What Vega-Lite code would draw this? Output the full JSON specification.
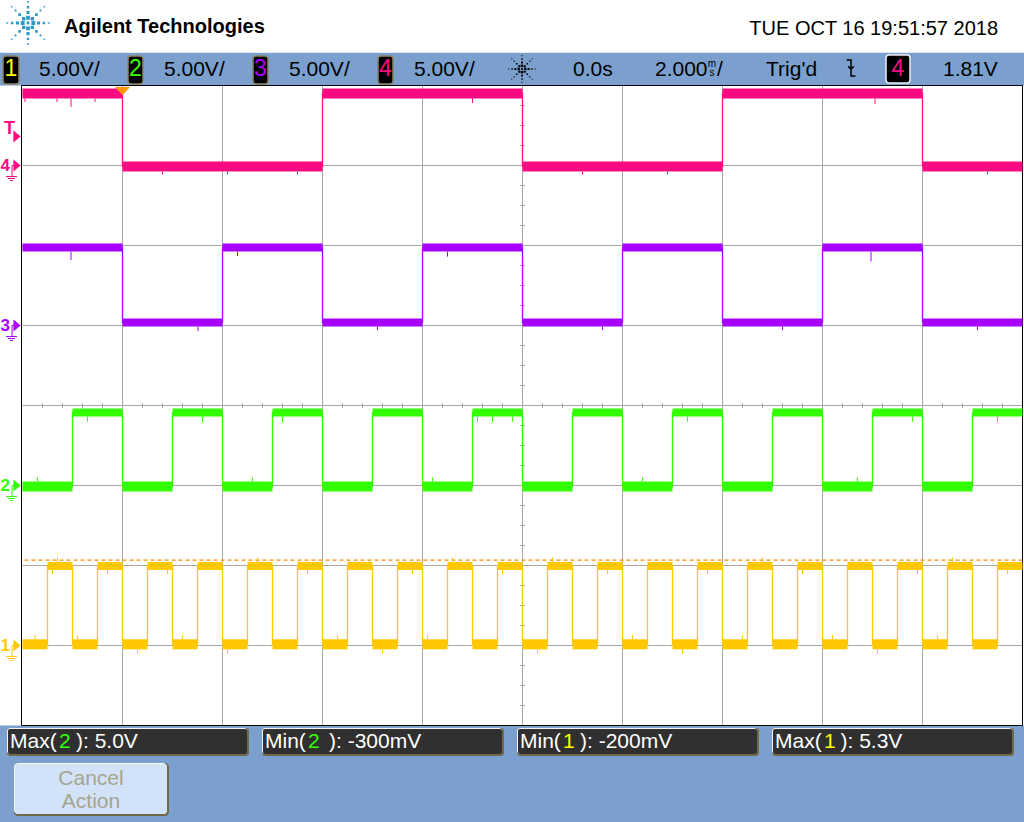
{
"$schema":"https://vega.github.io/schema/vega-lite/v6.json",
"width":1000,"height":640,
"autosize":{"type":"none"},
"padding":{"left":22.5,"top":85.5,"right":1.5,"bottom":96.5},
"background":"#FFFFFF",
"config":{"view":{"stroke":null},"font":"Liberation Sans"},
"datasets":{
"levels":[
{"k":"4H","v":4.5,"lo":4.19,"hi":4.81},{"k":"4L","v":-0.06,"lo":-0.375,"hi":0.25},
{"k":"3H","v":4.875,"lo":4.625,"hi":5.125},{"k":"3L","v":0.19,"lo":-0.06,"hi":0.44},
{"k":"2H","v":4.56,"lo":4.31,"hi":4.81},{"k":"2L","v":-0.06,"lo":-0.375,"hi":0.25},
{"k":"1H","v":4.97,"lo":4.72,"hi":5.22},{"k":"1L","v":0.08,"lo":-0.24,"hi":0.39}],
"segs":[
{"ch":"4","t0":0,"t1":2,"k":"4H"},{"ch":"4","t0":2,"t1":6,"k":"4L"},{"ch":"4","t0":6,"t1":10,"k":"4H"},{"ch":"4","t0":10,"t1":14,"k":"4L"},{"ch":"4","t0":14,"t1":18,"k":"4H"},{"ch":"4","t0":18,"t1":20,"k":"4L"},
{"ch":"3","t0":0,"t1":2,"k":"3H"},{"ch":"3","t0":2,"t1":4,"k":"3L"},{"ch":"3","t0":4,"t1":6,"k":"3H"},{"ch":"3","t0":6,"t1":8,"k":"3L"},{"ch":"3","t0":8,"t1":10,"k":"3H"},{"ch":"3","t0":10,"t1":12,"k":"3L"},{"ch":"3","t0":12,"t1":14,"k":"3H"},{"ch":"3","t0":14,"t1":16,"k":"3L"},{"ch":"3","t0":16,"t1":18,"k":"3H"},{"ch":"3","t0":18,"t1":20,"k":"3L"},
{"ch":"2","t0":0,"t1":1,"k":"2L"},{"ch":"2","t0":1,"t1":2,"k":"2H"},{"ch":"2","t0":2,"t1":3,"k":"2L"},{"ch":"2","t0":3,"t1":4,"k":"2H"},{"ch":"2","t0":4,"t1":5,"k":"2L"},{"ch":"2","t0":5,"t1":6,"k":"2H"},{"ch":"2","t0":6,"t1":7,"k":"2L"},{"ch":"2","t0":7,"t1":8,"k":"2H"},{"ch":"2","t0":8,"t1":9,"k":"2L"},{"ch":"2","t0":9,"t1":10,"k":"2H"},{"ch":"2","t0":10,"t1":11,"k":"2L"},{"ch":"2","t0":11,"t1":12,"k":"2H"},{"ch":"2","t0":12,"t1":13,"k":"2L"},{"ch":"2","t0":13,"t1":14,"k":"2H"},{"ch":"2","t0":14,"t1":15,"k":"2L"},{"ch":"2","t0":15,"t1":16,"k":"2H"},{"ch":"2","t0":16,"t1":17,"k":"2L"},{"ch":"2","t0":17,"t1":18,"k":"2H"},{"ch":"2","t0":18,"t1":19,"k":"2L"},{"ch":"2","t0":19,"t1":20,"k":"2H"},
{"ch":"1","t0":0,"t1":0.5,"k":"1L"},{"ch":"1","t0":0.5,"t1":1,"k":"1H"},{"ch":"1","t0":1,"t1":1.5,"k":"1L"},{"ch":"1","t0":1.5,"t1":2,"k":"1H"},{"ch":"1","t0":2,"t1":2.5,"k":"1L"},{"ch":"1","t0":2.5,"t1":3,"k":"1H"},{"ch":"1","t0":3,"t1":3.5,"k":"1L"},{"ch":"1","t0":3.5,"t1":4,"k":"1H"},{"ch":"1","t0":4,"t1":4.5,"k":"1L"},{"ch":"1","t0":4.5,"t1":5,"k":"1H"},{"ch":"1","t0":5,"t1":5.5,"k":"1L"},{"ch":"1","t0":5.5,"t1":6,"k":"1H"},{"ch":"1","t0":6,"t1":6.5,"k":"1L"},{"ch":"1","t0":6.5,"t1":7,"k":"1H"},{"ch":"1","t0":7,"t1":7.5,"k":"1L"},{"ch":"1","t0":7.5,"t1":8,"k":"1H"},{"ch":"1","t0":8,"t1":8.5,"k":"1L"},{"ch":"1","t0":8.5,"t1":9,"k":"1H"},{"ch":"1","t0":9,"t1":9.5,"k":"1L"},{"ch":"1","t0":9.5,"t1":10,"k":"1H"},{"ch":"1","t0":10,"t1":10.5,"k":"1L"},{"ch":"1","t0":10.5,"t1":11,"k":"1H"},{"ch":"1","t0":11,"t1":11.5,"k":"1L"},{"ch":"1","t0":11.5,"t1":12,"k":"1H"},{"ch":"1","t0":12,"t1":12.5,"k":"1L"},{"ch":"1","t0":12.5,"t1":13,"k":"1H"},{"ch":"1","t0":13,"t1":13.5,"k":"1L"},{"ch":"1","t0":13.5,"t1":14,"k":"1H"},{"ch":"1","t0":14,"t1":14.5,"k":"1L"},{"ch":"1","t0":14.5,"t1":15,"k":"1H"},{"ch":"1","t0":15,"t1":15.5,"k":"1L"},{"ch":"1","t0":15.5,"t1":16,"k":"1H"},{"ch":"1","t0":16,"t1":16.5,"k":"1L"},{"ch":"1","t0":16.5,"t1":17,"k":"1H"},{"ch":"1","t0":17,"t1":17.5,"k":"1L"},{"ch":"1","t0":17.5,"t1":18,"k":"1H"},{"ch":"1","t0":18,"t1":18.5,"k":"1L"},{"ch":"1","t0":18.5,"t1":19,"k":"1H"},{"ch":"1","t0":19,"t1":19.5,"k":"1L"},{"ch":"1","t0":19.5,"t1":20,"k":"1H"}],
"spikes":[
{"ch":"4","t":0.05,"a":4.19,"b":3.97},{"ch":"4","t":0.69,"a":4.19,"b":3.97},{"ch":"4","t":0.97,"a":4.19,"b":3.66},{"ch":"4","t":1.45,"a":4.19,"b":3.97},{"ch":"4","t":9.0,"a":4.19,"b":3.9},{"ch":"4","t":17.05,"a":4.19,"b":3.85},
{"ch":"4","t":2.8,"a":-0.375,"b":-0.56},{"ch":"4","t":4.1,"a":-0.375,"b":-0.56},{"ch":"4","t":5.5,"a":-0.375,"b":-0.56},{"ch":"4","t":11.2,"a":-0.375,"b":-0.56},{"ch":"4","t":12.9,"a":-0.375,"b":-0.56},{"ch":"4","t":19.3,"a":-0.375,"b":-0.56},
{"ch":"3","t":0.97,"a":4.625,"b":4.1},{"ch":"3","t":16.97,"a":4.625,"b":4.0},{"ch":"3","t":8.5,"a":4.625,"b":4.3},{"ch":"3","t":4.3,"a":4.625,"b":4.35},
{"ch":"3","t":3.51,"a":-0.06,"b":-0.35},{"ch":"3","t":7.1,"a":-0.06,"b":-0.3},{"ch":"3","t":11.6,"a":-0.06,"b":-0.3},{"ch":"3","t":15.2,"a":-0.06,"b":-0.3},{"ch":"3","t":19.1,"a":-0.06,"b":-0.3},
{"ch":"2","t":9.1,"a":4.31,"b":4.0},{"ch":"2","t":9.4,"a":4.31,"b":4.0},{"ch":"2","t":9.8,"a":4.31,"b":4.0},{"ch":"2","t":1.3,"a":4.31,"b":4.0},{"ch":"2","t":3.6,"a":4.31,"b":4.0},{"ch":"2","t":5.2,"a":4.31,"b":4.0},{"ch":"2","t":13.3,"a":4.31,"b":4.0},{"ch":"2","t":17.8,"a":4.31,"b":4.0},{"ch":"2","t":19.5,"a":4.31,"b":4.0},
{"ch":"2","t":0.3,"a":0.25,"b":0.5},{"ch":"2","t":4.6,"a":0.25,"b":0.5},{"ch":"2","t":8.2,"a":0.25,"b":0.5},{"ch":"2","t":12.4,"a":0.25,"b":0.5},{"ch":"2","t":16.7,"a":0.25,"b":0.5},
{"ch":"1","t":0.6,"a":4.72,"b":4.45},{"ch":"1","t":1.7,"a":4.72,"b":4.45},{"ch":"1","t":2.9,"a":4.72,"b":4.45},{"ch":"1","t":5.7,"a":4.72,"b":4.45},{"ch":"1","t":7.8,"a":4.72,"b":4.45},{"ch":"1","t":9.6,"a":4.72,"b":4.45},{"ch":"1","t":11.7,"a":4.72,"b":4.45},{"ch":"1","t":13.7,"a":4.72,"b":4.45},{"ch":"1","t":15.6,"a":4.72,"b":4.45},{"ch":"1","t":17.9,"a":4.72,"b":4.45},{"ch":"1","t":19.7,"a":4.72,"b":4.45},
{"ch":"1","t":0.7,"a":5.22,"b":5.5},{"ch":"1","t":4.7,"a":5.22,"b":5.5},{"ch":"1","t":8.6,"a":5.22,"b":5.5},{"ch":"1","t":10.6,"a":5.22,"b":5.5},{"ch":"1","t":14.8,"a":5.22,"b":5.5},{"ch":"1","t":18.6,"a":5.22,"b":5.5},
{"ch":"1","t":0.25,"a":0.39,"b":0.65},{"ch":"1","t":1.1,"a":0.39,"b":0.65},{"ch":"1","t":3.2,"a":0.39,"b":0.65},{"ch":"1","t":6.3,"a":0.39,"b":0.65},{"ch":"1","t":8.1,"a":0.39,"b":0.65},{"ch":"1","t":12.2,"a":0.39,"b":0.65},{"ch":"1","t":14.4,"a":0.39,"b":0.65},{"ch":"1","t":16.2,"a":0.39,"b":0.65},{"ch":"1","t":18.3,"a":0.39,"b":0.65},
{"ch":"1","t":2.3,"a":-0.24,"b":-0.5},{"ch":"1","t":4.1,"a":-0.24,"b":-0.5},{"ch":"1","t":7.2,"a":-0.24,"b":-0.5},{"ch":"1","t":10.3,"a":-0.24,"b":-0.5},{"ch":"1","t":13.2,"a":-0.24,"b":-0.5},{"ch":"1","t":17.1,"a":-0.24,"b":-0.5}],
"mboxes":[{"t0":-0.31,"t1":4.53},{"t0":4.79,"t1":9.63},{"t0":9.89,"t1":14.73},{"t0":14.99,"t1":19.83}],
"markers":[{"ch":"4","d":7},{"ch":"3","d":5},{"ch":"2","d":3},{"ch":"1","d":1}]
},
"resolve":{"scale":{"y":"independent","color":"independent"}},
"layer":[
{"data":{"values":[{"t0":-0.5,"t1":20.1,"d0":8.0,"d1":8.41},{"t0":-0.5,"t1":20.1,"d0":-1.25,"d1":0}]},
 "mark":{"type":"rect","color":"#7BA0CE"},
 "encoding":{"x":{"field":"t0","type":"quantitative","scale":{"domain":[0,20],"nice":false,"zero":false},"axis":null},"x2":{"field":"t1"},
  "y":{"field":"d1","type":"quantitative","scale":{"domain":[0,8],"nice":false,"zero":false},"axis":null},"y2":{"field":"d0"}}},
{"data":{"values":[{"t":2},{"t":4},{"t":6},{"t":8},{"t":10},{"t":12},{"t":14},{"t":16},{"t":18}]},
 "mark":{"type":"rule","color":"#A8A8A8","strokeWidth":1},
 "encoding":{"x":{"field":"t","type":"quantitative","scale":{"domain":[0,20],"nice":false,"zero":false},"axis":null},
  "y":{"datum":0,"type":"quantitative","scale":{"domain":[0,8],"nice":false,"zero":false},"axis":null},"y2":{"datum":8}}},
{"data":{"values":[{"d":1},{"d":2},{"d":3},{"d":4},{"d":5},{"d":6},{"d":7}]},
 "mark":{"type":"rule","color":"#A8A8A8","strokeWidth":1},
 "encoding":{"y":{"field":"d","type":"quantitative","scale":{"domain":[0,8],"nice":false,"zero":false},"axis":null},
  "x":{"datum":0,"type":"quantitative","scale":{"domain":[0,20],"nice":false,"zero":false},"axis":null},"x2":{"datum":20}}},
{"data":{"values":[{"t":0.4},{"t":0.8},{"t":1.2},{"t":1.6},{"t":2.4},{"t":2.8},{"t":3.2},{"t":3.6},{"t":4.4},{"t":4.8},{"t":5.2},{"t":5.6},{"t":6.4},{"t":6.8},{"t":7.2},{"t":7.6},{"t":8.4},{"t":8.8},{"t":9.2},{"t":9.6},{"t":10.4},{"t":10.8},{"t":11.2},{"t":11.6},{"t":12.4},{"t":12.8},{"t":13.2},{"t":13.6},{"t":14.4},{"t":14.8},{"t":15.2},{"t":15.6},{"t":16.4},{"t":16.8},{"t":17.2},{"t":17.6},{"t":18.4},{"t":18.8},{"t":19.2},{"t":19.6}]},
 "mark":{"type":"rule","color":"#A8A8A8","strokeWidth":1},
 "encoding":{"x":{"field":"t","type":"quantitative","scale":{"domain":[0,20],"nice":false,"zero":false},"axis":null},
  "y":{"datum":3.97,"type":"quantitative","scale":{"domain":[0,8],"nice":false,"zero":false},"axis":null},"y2":{"datum":4.03}}},
{"data":{"values":[{"d":0.25},{"d":0.5},{"d":0.75},{"d":1.25},{"d":1.5},{"d":1.75},{"d":2.25},{"d":2.5},{"d":2.75},{"d":3.25},{"d":3.5},{"d":3.75},{"d":4.25},{"d":4.5},{"d":4.75},{"d":5.25},{"d":5.5},{"d":5.75},{"d":6.25},{"d":6.5},{"d":6.75},{"d":7.25},{"d":7.5},{"d":7.75}]},
 "mark":{"type":"rule","color":"#A8A8A8","strokeWidth":1},
 "encoding":{"y":{"field":"d","type":"quantitative","scale":{"domain":[0,8],"nice":false,"zero":false},"axis":null},
  "x":{"datum":9.95,"type":"quantitative","scale":{"domain":[0,20],"nice":false,"zero":false},"axis":null},"x2":{"datum":10.05}}},
{"data":{"values":[{"t0":-0.02,"t1":-0.02,"d0":0,"d1":8},{"t0":20,"t1":20,"d0":0,"d1":8},{"t0":-0.02,"t1":20,"d0":8,"d1":8},{"t0":-0.02,"t1":20,"d0":0,"d1":0}]},
 "mark":{"type":"rule","color":"#000000","strokeWidth":1},
 "encoding":{"x":{"field":"t0","type":"quantitative","scale":{"domain":[0,20],"nice":false,"zero":false},"axis":null},"x2":{"field":"t1"},
  "y":{"field":"d0","type":"quantitative","scale":{"domain":[0,8],"nice":false,"zero":false},"axis":null},"y2":{"field":"d1"}}},

{"layer":[
 {"data":{"name":"segs"},"transform":[{"filter":"datum.ch==='4'"},{"lookup":"k","from":{"data":{"name":"levels"},"key":"k","fields":["v","lo","hi"]}}],
  "mark":{"type":"rect","color":"#FF0A82"},
  "encoding":{"x":{"field":"t0","type":"quantitative","scale":{"domain":[0,20],"nice":false,"zero":false},"axis":null},"x2":{"field":"t1"},
   "y":{"field":"hi","type":"quantitative","scale":{"domain":[-35,5],"nice":false,"zero":false},"axis":null},"y2":{"field":"lo"}}},
 {"data":{"name":"segs"},"transform":[{"filter":"datum.ch==='4'"},{"lookup":"k","from":{"data":{"name":"levels"},"key":"k","fields":["v","lo","hi"]}}],
  "mark":{"type":"line","interpolate":"step-after","color":"#FF0A82","strokeWidth":1.3},
  "encoding":{"x":{"field":"t0","type":"quantitative","scale":{"domain":[0,20],"nice":false,"zero":false},"axis":null},
   "y":{"field":"v","type":"quantitative","scale":{"domain":[-35,5],"nice":false,"zero":false},"axis":null}}},
 {"data":{"name":"spikes"},"transform":[{"filter":"datum.ch==='4'"}],
  "mark":{"type":"rule","color":"#FF0A82","strokeWidth":1},
  "encoding":{"x":{"field":"t","type":"quantitative","scale":{"domain":[0,20],"nice":false,"zero":false},"axis":null},
   "y":{"field":"a","type":"quantitative","scale":{"domain":[-35,5],"nice":false,"zero":false},"axis":null},"y2":{"field":"b"}}}
]},
{"layer":[
 {"data":{"name":"segs"},"transform":[{"filter":"datum.ch==='3'"},{"lookup":"k","from":{"data":{"name":"levels"},"key":"k","fields":["v","lo","hi"]}}],
  "mark":{"type":"rect","color":"#A800FF"},
  "encoding":{"x":{"field":"t0","type":"quantitative","scale":{"domain":[0,20],"nice":false,"zero":false},"axis":null},"x2":{"field":"t1"},
   "y":{"field":"hi","type":"quantitative","scale":{"domain":[-25,15],"nice":false,"zero":false},"axis":null},"y2":{"field":"lo"}}},
 {"data":{"name":"segs"},"transform":[{"filter":"datum.ch==='3'"},{"lookup":"k","from":{"data":{"name":"levels"},"key":"k","fields":["v","lo","hi"]}}],
  "mark":{"type":"line","interpolate":"step-after","color":"#A800FF","strokeWidth":1.3},
  "encoding":{"x":{"field":"t0","type":"quantitative","scale":{"domain":[0,20],"nice":false,"zero":false},"axis":null},
   "y":{"field":"v","type":"quantitative","scale":{"domain":[-25,15],"nice":false,"zero":false},"axis":null}}},
 {"data":{"name":"spikes"},"transform":[{"filter":"datum.ch==='3'"}],
  "mark":{"type":"rule","color":"#A800FF","strokeWidth":1},
  "encoding":{"x":{"field":"t","type":"quantitative","scale":{"domain":[0,20],"nice":false,"zero":false},"axis":null},
   "y":{"field":"a","type":"quantitative","scale":{"domain":[-25,15],"nice":false,"zero":false},"axis":null},"y2":{"field":"b"}}}
]},
{"layer":[
 {"data":{"name":"segs"},"transform":[{"filter":"datum.ch==='2'"},{"lookup":"k","from":{"data":{"name":"levels"},"key":"k","fields":["v","lo","hi"]}}],
  "mark":{"type":"rect","color":"#33FF00"},
  "encoding":{"x":{"field":"t0","type":"quantitative","scale":{"domain":[0,20],"nice":false,"zero":false},"axis":null},"x2":{"field":"t1"},
   "y":{"field":"hi","type":"quantitative","scale":{"domain":[-15,25],"nice":false,"zero":false},"axis":null},"y2":{"field":"lo"}}},
 {"data":{"name":"segs"},"transform":[{"filter":"datum.ch==='2'"},{"lookup":"k","from":{"data":{"name":"levels"},"key":"k","fields":["v","lo","hi"]}}],
  "mark":{"type":"line","interpolate":"step-after","color":"#33FF00","strokeWidth":1.3},
  "encoding":{"x":{"field":"t0","type":"quantitative","scale":{"domain":[0,20],"nice":false,"zero":false},"axis":null},
   "y":{"field":"v","type":"quantitative","scale":{"domain":[-15,25],"nice":false,"zero":false},"axis":null}}},
 {"data":{"name":"spikes"},"transform":[{"filter":"datum.ch==='2'"}],
  "mark":{"type":"rule","color":"#33FF00","strokeWidth":1},
  "encoding":{"x":{"field":"t","type":"quantitative","scale":{"domain":[0,20],"nice":false,"zero":false},"axis":null},
   "y":{"field":"a","type":"quantitative","scale":{"domain":[-15,25],"nice":false,"zero":false},"axis":null},"y2":{"field":"b"}}}
]},
{"layer":[
 {"data":{"values":[{"v":5.33}]},
  "mark":{"type":"rule","color":"#FF8C00","strokeWidth":1.2,"strokeDash":[4,3]},
  "encoding":{"y":{"field":"v","type":"quantitative","scale":{"domain":[-5,35],"nice":false,"zero":false},"axis":null}}},
 {"data":{"name":"segs"},"transform":[{"filter":"datum.ch==='1'"},{"lookup":"k","from":{"data":{"name":"levels"},"key":"k","fields":["v","lo","hi"]}}],
  "mark":{"type":"rect","color":"#FFC800"},
  "encoding":{"x":{"field":"t0","type":"quantitative","scale":{"domain":[0,20],"nice":false,"zero":false},"axis":null},"x2":{"field":"t1"},
   "y":{"field":"hi","type":"quantitative","scale":{"domain":[-5,35],"nice":false,"zero":false},"axis":null},"y2":{"field":"lo"}}},
 {"data":{"name":"segs"},"transform":[{"filter":"datum.ch==='1'"},{"lookup":"k","from":{"data":{"name":"levels"},"key":"k","fields":["v","lo","hi"]}}],
  "mark":{"type":"line","interpolate":"step-after","color":"#FFC800","strokeWidth":1.3},
  "encoding":{"x":{"field":"t0","type":"quantitative","scale":{"domain":[0,20],"nice":false,"zero":false},"axis":null},
   "y":{"field":"v","type":"quantitative","scale":{"domain":[-5,35],"nice":false,"zero":false},"axis":null}}},
 {"data":{"name":"spikes"},"transform":[{"filter":"datum.ch==='1'"}],
  "mark":{"type":"rule","color":"#FFC800","strokeWidth":1},
  "encoding":{"x":{"field":"t","type":"quantitative","scale":{"domain":[0,20],"nice":false,"zero":false},"axis":null},
   "y":{"field":"a","type":"quantitative","scale":{"domain":[-5,35],"nice":false,"zero":false},"axis":null},"y2":{"field":"b"}}}
]},

{"data":{"name":"markers"},
 "mark":{"type":"text","fontWeight":"bold","fontSize":17,"align":"left","baseline":"middle","dy":0},
 "encoding":{"x":{"datum":-0.44,"type":"quantitative","scale":{"domain":[0,20],"nice":false,"zero":false},"axis":null},
  "y":{"field":"d","type":"quantitative","scale":{"domain":[0,8],"nice":false,"zero":false},"axis":null},
  "text":{"field":"ch"},
  "color":{"field":"ch","type":"nominal","scale":{"domain":["1","2","3","4"],"range":["#FFC800","#33FF00","#A800FF","#FF0A82"]},"legend":null}}},
{"data":{"name":"markers"},
 "mark":{"type":"point","shape":"M-0.6,-1L0.6,0L-0.6,1Z","size":144,"filled":true,"opacity":1,"strokeWidth":0},
 "encoding":{"x":{"datum":-0.11,"type":"quantitative","scale":{"domain":[0,20],"nice":false,"zero":false},"axis":null},
  "y":{"field":"d","type":"quantitative","scale":{"domain":[0,8],"nice":false,"zero":false},"axis":null},
  "color":{"field":"ch","type":"nominal","scale":{"domain":["1","2","3","4"],"range":["#FFC800","#33FF00","#A800FF","#FF0A82"]},"legend":null}}},
{"data":{"name":"markers"},
 "mark":{"type":"point","shape":"M0,-0.6L0.2,-0.6M0,-0.6L0,0.5M-0.6,0.5L0.5,0.5M-0.4,0.7L0.3,0.7M-0.2,0.9L0.1,0.9","size":400,"filled":false,"opacity":1,"strokeWidth":1,"yOffset":6},
 "encoding":{"x":{"datum":-0.21,"type":"quantitative","scale":{"domain":[0,20],"nice":false,"zero":false},"axis":null},
  "y":{"field":"d","type":"quantitative","scale":{"domain":[0,8],"nice":false,"zero":false},"axis":null},
  "color":{"field":"ch","type":"nominal","scale":{"domain":["1","2","3","4"],"range":["#FFC800","#33FF00","#A800FF","#FF0A82"]},"legend":null}}},
{"data":{"values":[{"s":"T","t":-0.26,"d":7.4625}]},
 "mark":{"type":"text","fontWeight":"bold","fontSize":18,"align":"center","baseline":"middle","color":"#FF0A82"},
 "encoding":{"x":{"field":"t","type":"quantitative","scale":{"domain":[0,20],"nice":false,"zero":false},"axis":null},
  "y":{"field":"d","type":"quantitative","scale":{"domain":[0,8],"nice":false,"zero":false},"axis":null},"text":{"field":"s"}}},
{"data":{"values":[{"t":-0.11,"d":7.3625}]},
 "mark":{"type":"point","shape":"M-0.6,-1L0.6,0L-0.6,1Z","size":144,"filled":true,"opacity":1,"strokeWidth":0,"color":"#FF0A82"},
 "encoding":{"x":{"field":"t","type":"quantitative","scale":{"domain":[0,20],"nice":false,"zero":false},"axis":null},
  "y":{"field":"d","type":"quantitative","scale":{"domain":[0,8],"nice":false,"zero":false},"axis":null}}},
{"data":{"values":[{"t":2.0,"d":7.93}]},
 "mark":{"type":"point","shape":"M-1,-0.55L1,-0.55L0,0.55Z","size":225,"filled":true,"opacity":1,"strokeWidth":0,"color":"#FF9600"},
 "encoding":{"x":{"field":"t","type":"quantitative","scale":{"domain":[0,20],"nice":false,"zero":false},"axis":null},
  "y":{"field":"d","type":"quantitative","scale":{"domain":[0,8],"nice":false,"zero":false},"axis":null}}},

{"data":{"values":[{"t0":-0.39,"t1":-0.07},{"t0":2.11,"t1":2.41},{"t0":4.61,"t1":4.91},{"t0":7.11,"t1":7.41}]},
 "mark":{"type":"rect","color":"#000000","stroke":"#8C8464","strokeWidth":1.5,"cornerRadius":3},
 "encoding":{"x":{"field":"t0","type":"quantitative","scale":{"domain":[0,20],"nice":false,"zero":false},"axis":null},"x2":{"field":"t1"},
  "y":{"datum":8.369,"type":"quantitative","scale":{"domain":[0,8],"nice":false,"zero":false},"axis":null},"y2":{"datum":8.019}}},
{"data":{"values":[{"t0":17.27,"t1":17.75}]},
 "mark":{"type":"rect","color":"#000000","stroke":"#F0F0F0","strokeWidth":1.5,"cornerRadius":3},
 "encoding":{"x":{"field":"t0","type":"quantitative","scale":{"domain":[0,20],"nice":false,"zero":false},"axis":null},"x2":{"field":"t1"},
  "y":{"datum":8.381,"type":"quantitative","scale":{"domain":[0,8],"nice":false,"zero":false},"axis":null},"y2":{"datum":8.031}}},
{"data":{"values":[{"ch":"1","t":-0.23},{"ch":"2","t":2.26},{"ch":"3","t":4.76},{"ch":"4","t":7.26},{"ch":"4","t":17.51}]},
 "mark":{"type":"text","fontSize":23,"align":"center","baseline":"alphabetic"},
 "encoding":{"x":{"field":"t","type":"quantitative","scale":{"domain":[0,20],"nice":false,"zero":false},"axis":null},
  "y":{"datum":8.119,"type":"quantitative","scale":{"domain":[0,8],"nice":false,"zero":false},"axis":null},
  "text":{"field":"ch"},
  "color":{"field":"ch","type":"nominal","scale":{"domain":["1","2","3","4"],"range":["#FFFF00","#33FF00","#A800FF","#FF0A82"]},"legend":null}}},
{"data":{"values":[{"t":0.33,"s":"5.00V/"},{"t":2.83,"s":"5.00V/"},{"t":5.33,"s":"5.00V/"},{"t":7.83,"s":"5.00V/"},{"t":11.01,"s":"0.0s"},{"t":12.65,"s":"2.000"},{"t":13.89,"s":"/"},{"t":14.87,"s":"Trig'd"},{"t":18.41,"s":"1.81V"}]},
 "mark":{"type":"text","fontSize":21,"align":"left","baseline":"alphabetic","color":"#000000"},
 "encoding":{"x":{"field":"t","type":"quantitative","scale":{"domain":[0,20],"nice":false,"zero":false},"axis":null},
  "y":{"datum":8.119,"type":"quantitative","scale":{"domain":[0,8],"nice":false,"zero":false},"axis":null},"text":{"field":"s"}}},
{"data":{"values":[{"t":13.79,"d":8.231,"s":"m"},{"t":13.79,"d":8.119,"s":"s"}]},
 "mark":{"type":"text","fontSize":10,"align":"center","baseline":"alphabetic","color":"#000000"},
 "encoding":{"x":{"field":"t","type":"quantitative","scale":{"domain":[0,20],"nice":false,"zero":false},"axis":null},
  "y":{"field":"d","type":"quantitative","scale":{"domain":[0,8],"nice":false,"zero":false},"axis":null},"text":{"field":"s"}}},
{"data":{"values":[{"t":16.57,"d":8.219}]},
 "mark":{"type":"point","shape":"M-0.55,-1L0,-1L0,1L0.55,1M-0.35,-0.2L0,0.15L0.35,-0.2","size":256,"filled":false,"opacity":1,"strokeWidth":1.5,"color":"#000000"},
 "encoding":{"x":{"field":"t","type":"quantitative","scale":{"domain":[0,20],"nice":false,"zero":false},"axis":null},
  "y":{"field":"d","type":"quantitative","scale":{"domain":[0,8],"nice":false,"zero":false},"axis":null}}},
{"data":{"values":[{"icon":"run","t":9.99,"d":8.206}]},
 "mark":{"type":"point","shape":"M-0.06,-0.06h0.12v0.12h-0.12zM0.14,-0.08h0.16v0.16h-0.16zM0.375,-0.065h0.13v0.13h-0.13zM0.61,-0.05h0.1v0.1h-0.1zM0.845,-0.035h0.07v0.07h-0.07zM-0.3,-0.08h0.16v0.16h-0.16zM-0.505,-0.065h0.13v0.13h-0.13zM-0.71,-0.05h0.1v0.1h-0.1zM-0.915,-0.035h0.07v0.07h-0.07zM-0.08,-0.3h0.16v0.16h-0.16zM-0.065,-0.505h0.13v0.13h-0.13zM-0.05,-0.71h0.1v0.1h-0.1zM-0.035,-0.915h0.07v0.07h-0.07zM-0.08,0.14h0.16v0.16h-0.16zM-0.065,0.375h0.13v0.13h-0.13zM-0.05,0.61h0.1v0.1h-0.1zM-0.035,0.845h0.07v0.07h-0.07zM0.11,0.11h0.14v0.14h-0.14zM0.295,0.295h0.11v0.11h-0.11zM0.48,0.48h0.08v0.08h-0.08zM0.65,0.65h0.06v0.06h-0.06zM-0.25,0.11h0.14v0.14h-0.14zM-0.405,0.295h0.11v0.11h-0.11zM-0.56,0.48h0.08v0.08h-0.08zM-0.71,0.65h0.06v0.06h-0.06zM0.11,-0.25h0.14v0.14h-0.14zM0.295,-0.405h0.11v0.11h-0.11zM0.48,-0.56h0.08v0.08h-0.08zM0.65,-0.71h0.06v0.06h-0.06zM-0.25,-0.25h0.14v0.14h-0.14zM-0.405,-0.405h0.11v0.11h-0.11zM-0.56,-0.56h0.08v0.08h-0.08zM-0.71,-0.71h0.06v0.06h-0.06z","size":900,"filled":true,"opacity":1,"strokeWidth":0,"color":"#000000"},
 "encoding":{"x":{"field":"t","type":"quantitative","scale":{"domain":[0,20],"nice":false,"zero":false},"axis":null},
  "y":{"field":"d","type":"quantitative","scale":{"domain":[0,8],"nice":false,"zero":false},"axis":null}}},
{"data":{"values":[{"icon":"logo","t":0.11,"d":8.781}]},
 "mark":{"type":"point","shape":"M-0.06,-0.06h0.12v0.12h-0.12zM0.14,-0.08h0.16v0.16h-0.16zM0.375,-0.065h0.13v0.13h-0.13zM0.61,-0.05h0.1v0.1h-0.1zM0.845,-0.035h0.07v0.07h-0.07zM-0.3,-0.08h0.16v0.16h-0.16zM-0.505,-0.065h0.13v0.13h-0.13zM-0.71,-0.05h0.1v0.1h-0.1zM-0.915,-0.035h0.07v0.07h-0.07zM-0.08,-0.3h0.16v0.16h-0.16zM-0.065,-0.505h0.13v0.13h-0.13zM-0.05,-0.71h0.1v0.1h-0.1zM-0.035,-0.915h0.07v0.07h-0.07zM-0.08,0.14h0.16v0.16h-0.16zM-0.065,0.375h0.13v0.13h-0.13zM-0.05,0.61h0.1v0.1h-0.1zM-0.035,0.845h0.07v0.07h-0.07zM0.11,0.11h0.14v0.14h-0.14zM0.295,0.295h0.11v0.11h-0.11zM0.48,0.48h0.08v0.08h-0.08zM0.65,0.65h0.06v0.06h-0.06zM-0.25,0.11h0.14v0.14h-0.14zM-0.405,0.295h0.11v0.11h-0.11zM-0.56,0.48h0.08v0.08h-0.08zM-0.71,0.65h0.06v0.06h-0.06zM0.11,-0.25h0.14v0.14h-0.14zM0.295,-0.405h0.11v0.11h-0.11zM0.48,-0.56h0.08v0.08h-0.08zM0.65,-0.71h0.06v0.06h-0.06zM-0.25,-0.25h0.14v0.14h-0.14zM-0.405,-0.405h0.11v0.11h-0.11zM-0.56,-0.56h0.08v0.08h-0.08zM-0.71,-0.71h0.06v0.06h-0.06z","size":2304,"filled":true,"opacity":1,"strokeWidth":0,"color":"#2E9BC6"},
 "encoding":{"x":{"field":"t","type":"quantitative","scale":{"domain":[0,20],"nice":false,"zero":false},"axis":null},
  "y":{"field":"d","type":"quantitative","scale":{"domain":[0,8],"nice":false,"zero":false},"axis":null}}},
{"data":{"values":[{"t":0.83,"d":8.656,"s":"Agilent Technologies"}]},
 "mark":{"type":"text","fontSize":20,"fontWeight":"bold","align":"left","baseline":"alphabetic","color":"#000000"},
 "encoding":{"x":{"field":"t","type":"quantitative","scale":{"domain":[0,20],"nice":false,"zero":false},"axis":null},
  "y":{"field":"d","type":"quantitative","scale":{"domain":[0,8],"nice":false,"zero":false},"axis":null},"text":{"field":"s"}}},
{"data":{"values":[{"t":19.51,"d":8.631,"s":"TUE OCT 16 19:51:57 2018"}]},
 "mark":{"type":"text","fontSize":20,"align":"right","baseline":"alphabetic","color":"#000000"},
 "encoding":{"x":{"field":"t","type":"quantitative","scale":{"domain":[0,20],"nice":false,"zero":false},"axis":null},
  "y":{"field":"d","type":"quantitative","scale":{"domain":[0,8],"nice":false,"zero":false},"axis":null},"text":{"field":"s"}}},

{"data":{"name":"mboxes"},
 "mark":{"type":"rect","color":"#706A48","cornerRadius":3},
 "encoding":{"x":{"field":"t0","type":"quantitative","scale":{"domain":[0,20],"nice":false,"zero":false},"axis":null},"x2":{"field":"t1"},
  "y":{"datum":-0.031,"type":"quantitative","scale":{"domain":[0,8],"nice":false,"zero":false},"axis":null},"y2":{"datum":-0.381}}},
{"data":{"name":"mboxes"},
 "mark":{"type":"rect","color":"#F4F4F4","cornerRadius":3,"x2Offset":-2,"y2Offset":-2},
 "encoding":{"x":{"field":"t0","type":"quantitative","scale":{"domain":[0,20],"nice":false,"zero":false},"axis":null},"x2":{"field":"t1"},
  "y":{"datum":-0.031,"type":"quantitative","scale":{"domain":[0,8],"nice":false,"zero":false},"axis":null},"y2":{"datum":-0.381}}},
{"data":{"name":"mboxes"},
 "mark":{"type":"rect","color":"#303030","cornerRadius":2,"xOffset":1,"yOffset":1,"x2Offset":-2,"y2Offset":-2},
 "encoding":{"x":{"field":"t0","type":"quantitative","scale":{"domain":[0,20],"nice":false,"zero":false},"axis":null},"x2":{"field":"t1"},
  "y":{"datum":-0.031,"type":"quantitative","scale":{"domain":[0,8],"nice":false,"zero":false},"axis":null},"y2":{"datum":-0.381}}},
{"data":{"values":[{"t":-0.25,"s":"Max("},{"t":1.07,"s":"): 5.0V"},{"t":4.85,"s":"Min("},{"t":6.13,"s":"): -300mV"},{"t":9.95,"s":"Min("},{"t":11.15,"s":"): -200mV"},{"t":15.05,"s":"Max("},{"t":16.36,"s":"): 5.3V"}]},
 "mark":{"type":"text","fontSize":21,"align":"left","baseline":"alphabetic","color":"#FFFFFF"},
 "encoding":{"x":{"field":"t","type":"quantitative","scale":{"domain":[0,20],"nice":false,"zero":false},"axis":null},
  "y":{"datum":-0.281,"type":"quantitative","scale":{"domain":[0,8],"nice":false,"zero":false},"axis":null},"text":{"field":"s"}}},
{"data":{"values":[{"ch":"2","t":0.73},{"ch":"2","t":5.71},{"ch":"1","t":10.81},{"ch":"1","t":16.03}]},
 "mark":{"type":"text","fontSize":21,"align":"left","baseline":"alphabetic"},
 "encoding":{"x":{"field":"t","type":"quantitative","scale":{"domain":[0,20],"nice":false,"zero":false},"axis":null},
  "y":{"datum":-0.281,"type":"quantitative","scale":{"domain":[0,8],"nice":false,"zero":false},"axis":null},
  "text":{"field":"ch"},
  "color":{"field":"ch","type":"nominal","scale":{"domain":["1","2"],"range":["#FFFF00","#33FF00"]},"legend":null}}},

{"data":{"values":[{"t0":-0.17,"t1":2.93}]},
 "mark":{"type":"rect","color":"#706A48","cornerRadius":4},
 "encoding":{"x":{"field":"t0","type":"quantitative","scale":{"domain":[0,20],"nice":false,"zero":false},"axis":null},"x2":{"field":"t1"},
  "y":{"datum":-0.469,"type":"quantitative","scale":{"domain":[0,8],"nice":false,"zero":false},"axis":null},"y2":{"datum":-1.131}}},
{"data":{"values":[{"t0":-0.17,"t1":2.93}]},
 "mark":{"type":"rect","color":"#F8F8F8","cornerRadius":4,"x2Offset":-2,"y2Offset":-2},
 "encoding":{"x":{"field":"t0","type":"quantitative","scale":{"domain":[0,20],"nice":false,"zero":false},"axis":null},"x2":{"field":"t1"},
  "y":{"datum":-0.469,"type":"quantitative","scale":{"domain":[0,8],"nice":false,"zero":false},"axis":null},"y2":{"datum":-1.131}}},
{"data":{"values":[{"t0":-0.17,"t1":2.93}]},
 "mark":{"type":"rect","color":"#D2E2F8","cornerRadius":3,"xOffset":1,"yOffset":1,"x2Offset":-2,"y2Offset":-2},
 "encoding":{"x":{"field":"t0","type":"quantitative","scale":{"domain":[0,20],"nice":false,"zero":false},"axis":null},"x2":{"field":"t1"},
  "y":{"datum":-0.469,"type":"quantitative","scale":{"domain":[0,8],"nice":false,"zero":false},"axis":null},"y2":{"datum":-1.131}}},
{"data":{"values":[{"t":1.37,"d":-0.743,"s":"Cancel"},{"t":1.37,"d":-1.031,"s":"Action"}]},
 "mark":{"type":"text","fontSize":21,"align":"center","baseline":"alphabetic","color":"#A5A58E"},
 "encoding":{"x":{"field":"t","type":"quantitative","scale":{"domain":[0,20],"nice":false,"zero":false},"axis":null},
  "y":{"field":"d","type":"quantitative","scale":{"domain":[0,8],"nice":false,"zero":false},"axis":null},"text":{"field":"s"}}}
]
}
